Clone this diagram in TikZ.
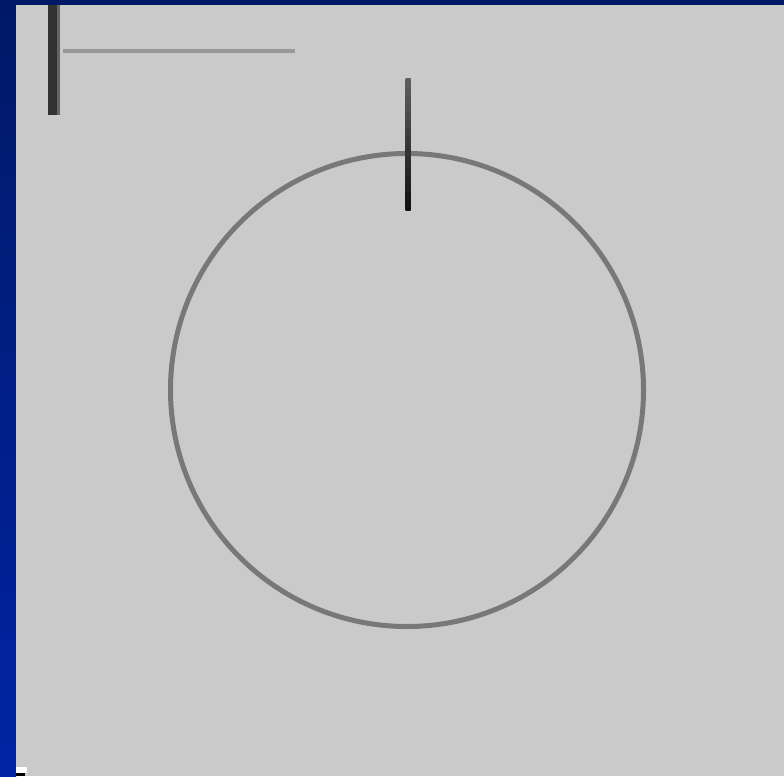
\documentclass[tikz,border=0pt]{standalone}
\begin{document}
\begin{tikzpicture}[x=1pt,y=-1pt,
  ringline/.style={draw=ringgray,line width=5pt},
  ticktop/.style={top color=tickA,bottom color=tickB,draw=none}]
\definecolor{navy}{RGB}{0,25,102}
\definecolor{blueB}{RGB}{0,36,165}
\definecolor{panel}{RGB}{202,202,202}
\definecolor{ringgray}{RGB}{120,120,120}
\definecolor{barA}{RGB}{50,50,50}
\definecolor{barB}{RGB}{100,100,100}
\definecolor{hline}{RGB}{153,153,153}
\definecolor{tickA}{RGB}{95,95,95}
\definecolor{tickB}{RGB}{15,15,15}
\useasboundingbox (0,0) rectangle (784,776);
% background
\fill[navy] (0,0) rectangle (784,776);
\shade[top color=navy,bottom color=blueB] (0,0) rectangle (16,776);
\fill[panel] (16,5) rectangle (784,776);
% top-left bar and line
\fill[barA] (48,5) rectangle (57,115);
\fill[barB] (57,5) rectangle (60,115);
\fill[hline] (63,49) rectangle (295,53);
% circle
\node[circle,ringline,minimum size=473pt,inner sep=0pt] (ring) at (407,390) {};
% tick
\shade[ticktop] (405.5,78) rectangle (410.5,210);
% bottom-left marks
\fill[white] (16,767) rectangle (27,773);
\fill[black] (16,773) rectangle (25,776);
\end{tikzpicture}
\end{document}
